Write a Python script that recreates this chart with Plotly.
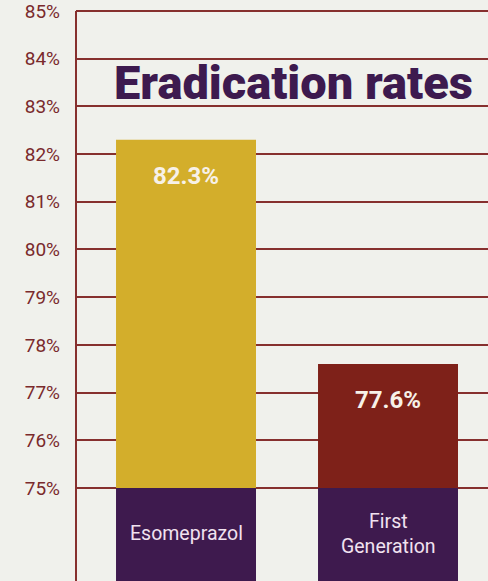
import plotly.graph_objects as go

categories = ["Esomeprazol", "First<br>Generation"]
rates = [82.3, 77.6]
bar_labels = ["82.3%", "77.6%"]
tick_values = [75, 76, 77, 78, 79, 80, 81, 82, 83, 84, 85]
tick_labels = ["75%", "76%", "77%", "78%", "79%", "80%", "81%", "82%", "83%", "84%", "85%"]
axis_base = 75
y_min, y_max = 73.05, 85.23

bar_colors = ["#d3ae2b", "#7e2119"]
label_box_color = "#3e1a4e"
grid_color = "#86302e"

xs = list(range(len(categories)))
bw = 0.693

fig = go.Figure()
# category label boxes (below the 75% baseline)
fig.add_trace(go.Bar(
    x=xs, y=[axis_base - y_min] * len(xs), base=[y_min] * len(xs),
    width=bw, marker=dict(color=label_box_color, line=dict(width=0)),
    hoverinfo="skip", showlegend=False,
))
# value bars
fig.add_trace(go.Bar(
    x=xs, y=[r - axis_base for r in rates], base=[axis_base] * len(xs),
    width=bw, marker=dict(color=bar_colors, line=dict(width=0)),
    showlegend=False,
))

for x, r, t in zip(xs, rates, bar_labels):
    fig.add_annotation(x=x, y=r, yshift=-36, text=t, showarrow=False,
                       font=dict(family="Roboto", size=24, color="#f7f1e8", weight=700),
                       xref="x", yref="y")

for x, c in zip(xs, categories):
    fig.add_annotation(x=x, y=(axis_base + y_min) / 2 + 0.02, text=c, showarrow=False,
                       font=dict(family="Roboto", size=19.5, color="#f1e2f0"),
                       xref="x", yref="y")

fig.add_annotation(x=0.5, xshift=6, y=83.5, xref="x", yref="y", text="Eradication rates",
                   showarrow=False,
                   font=dict(family="Roboto", size=47, color="#3d1a4f", weight=900))

# left axis line
fig.add_shape(type="line", xref="paper", yref="y", x0=0, x1=0, y0=y_min, y1=tick_values[-1],
              line=dict(color=grid_color, width=2), layer="above")

fig.update_layout(
    width=488, height=581,
    margin=dict(l=76, r=0, t=0, b=0),
    paper_bgcolor="#f0f1ec", plot_bgcolor="#f0f1ec",
    barmode="overlay",
    xaxis=dict(range=[-0.5446, 1.495], showgrid=False, zeroline=False,
               showticklabels=False, showline=False, fixedrange=True),
    yaxis=dict(range=[y_min, y_max], tickvals=tick_values, ticktext=tick_labels,
               showgrid=True, gridcolor=grid_color, gridwidth=2, zeroline=False,
               showline=False, ticklabelstandoff=15, ticklabeloverflow="allow",
               tickfont=dict(family="Roboto", size=19, color="#7a2a2c"),
               layer="below traces"),
)

fig.write_html("out.html", config={"displayModeBar": False},
               post_script="document.body.style.margin='0';document.body.style.overflow='hidden';")
